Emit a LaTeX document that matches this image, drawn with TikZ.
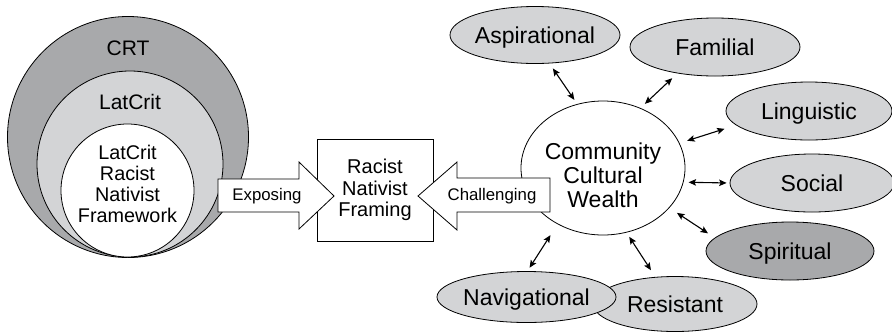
\documentclass[tikz,border=0pt]{standalone}
\usepackage{fontspec}
\setmainfont{Liberation Sans}
\usetikzlibrary{shapes.geometric,arrows.meta}
\definecolor{midgray}{RGB}{168,169,171}
\definecolor{palegray}{RGB}{211,212,214}
\tikzset{
  big/.style={font=\fontsize{21}{24}\selectfont},
  bigger/.style={font=\fontsize{23}{24}\selectfont},
  small/.style={font=\fontsize{16.8}{18}\selectfont},
  wealth/.style={ellipse,draw,fill=palegray,inner sep=0pt,bigger,text height=16.5pt,text depth=0pt},
  link/.style={{Stealth[length=7.5pt,width=6.5pt,inset=1.5pt]}-{Stealth[length=7.5pt,width=6.5pt,inset=1.5pt]},line width=1.1pt}
}
\begin{document}
\begin{tikzpicture}[x=1pt,y=-1pt,line width=0.8pt]
\useasboundingbox (0,0) rectangle (892,333);

\node[circle,draw,fill=midgray,inner sep=0pt,minimum size=241pt] (crt) at (128,137) {};
\node[circle,draw,fill=palegray,inner sep=0pt,minimum size=186pt] (latcrit) at (130,164) {};
\node[circle,draw,fill=white,inner sep=0pt,minimum size=133pt] (lrn) at (127.5,190.5) {};
\node[big] (crtlabel) at (128,48) {CRT};
\node[big] (latcritlabel) at (130,102) {LatCrit};
\node[align=center,font=\fontsize{19.8}{21}\selectfont] (lrnlabel) at (127.5,183.5) {LatCrit\\Racist\\Nativist\\Framework};

\node[draw,fill=white,minimum width=116pt,minimum height=102pt,align=center,font=\fontsize{20}{21.5}\selectfont] (framing) at (375,190) {Racist\\Nativist\\Framing};

\node[ellipse,draw,fill=white,inner sep=0pt,minimum width=164pt,minimum height=134pt] (ccw) at (603,168) {};
\node[bigger,align=center] (ccwlabel) at (603,175) {Community\\Cultural\\Wealth};

\draw[fill=white] (218,179) -- (299,179) -- (299,162) -- (334,196) -- (299,229) -- (299,212) -- (218,212) -- cycle;
\node[small] (exposing) at (267,196) {Exposing};
\draw[fill=white] (550,178) -- (457,178) -- (457,162) -- (418,196) -- (457,230) -- (457,212) -- (550,212) -- cycle;
\node[small] (challenging) at (492,196) {Challenging};

\node[wealth,minimum width=170pt,minimum height=57pt] (asp) at (535,35) {Aspirational};
\node[wealth,minimum width=170pt,minimum height=58pt] (fam) at (715,47) {Familial};
\node[wealth,minimum width=166pt,minimum height=58pt] (ling) at (809,111) {Linguistic};
\node[wealth,minimum width=164pt,minimum height=58pt] (soc) at (812,183) {Social};
\node[wealth,fill=midgray,minimum width=168pt,minimum height=58pt] (spir) at (790,251) {Spiritual};
\node[wealth,minimum width=164pt,minimum height=55pt] (res) at (675,304) {Resistant};
\node[wealth,minimum width=169pt,minimum height=51pt] (nav) at (526.5,297) {Navigational};

\draw[link,shorten <=6pt,shorten >=5pt] (asp.-63) -- (ccw.112);
\draw[link,shorten <=7pt,shorten >=6pt] (fam.215) -- (ccw.58);
\draw[link,shorten <=12pt,shorten >=8pt] (ling.191) -- (ccw.18);
\draw[link,shorten <=3pt,shorten >=5pt] (soc.180) -- (ccw.-10);
\draw[link,shorten <=8pt,shorten >=9pt] (spir.170) -- (ccw.-31);
\draw[link,shorten <=8pt,shorten >=5pt] (res.126) -- (ccw.-70);
\draw[link,shorten <=4pt,shorten >=13pt] (nav.88) -- (ccw.231);
\end{tikzpicture}
\end{document}
